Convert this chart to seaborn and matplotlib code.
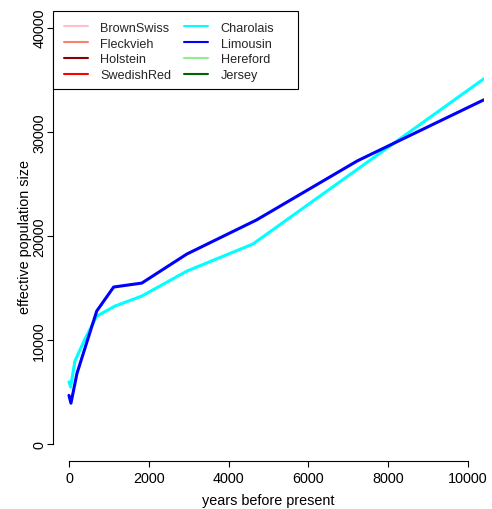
import matplotlib
matplotlib.use("Agg")
import matplotlib.pyplot as plt
from matplotlib.lines import Line2D
from matplotlib.patches import Rectangle
import numpy as np
import pandas as pd
import seaborn as sns

# Breeds shown in the legend, with their line colours
breeds = ["BrownSwiss", "Fleckvieh", "Holstein", "SwedishRed",
          "Charolais", "Limousin", "Hereford", "Jersey"]
colors = ["pink", "salmon", "darkred", "red",
          "cyan", "blue", "lightgreen", "darkgreen"]

# Effective population size trajectories (years before present, Ne)
charolais_years = [0, 40, 150, 400, 695, 1150, 1825, 2955, 4610, 10400]
charolais_ne = [6000, 5500, 8000, 10100, 12300, 13270, 14230, 16630, 19230, 35100]

limousin_years = [0, 50, 200, 695, 1120, 1825, 2955, 4700, 7225, 10400]
limousin_ne = [4700, 3950, 6800, 12790, 15100, 15480, 18270, 21540, 27210, 33080]

x_ticks = [0, 2000, 4000, 6000, 8000, 10000]
y_ticks = [0, 10000, 20000, 30000, 40000]

df = pd.concat([
    pd.DataFrame({"years": charolais_years, "ne": charolais_ne, "breed": "Charolais"}),
    pd.DataFrame({"years": limousin_years, "ne": limousin_ne, "breed": "Limousin"}),
], ignore_index=True)

sns.set_theme(style="white")
plt.rcParams["font.family"] = ["Liberation Sans", "DejaVu Sans"]

W, H = 492, 510
fig = plt.figure(figsize=(W / 100, H / 100), dpi=100)
ax = fig.add_axes([53 / W, 1 - 462 / H, (484 - 53) / W, (462 - 12) / H])

palette = dict(zip(breeds, colors))
sns.lineplot(data=df, x="years", y="ne", hue="breed", palette=palette,
             sort=False, estimator=None, linewidth=2.2, legend=False, ax=ax)

ax.set_xlim(-400, 10400)
ax.set_ylim(-1600, 41600)
ax.set_xticks(x_ticks)
ax.set_yticks(y_ticks)
ax.set_xticklabels([str(t) for t in x_ticks])
ax.set_yticklabels([str(t) for t in y_ticks], rotation=90, va="center")

for side in ("top", "right"):
    ax.spines[side].set_visible(False)
ax.spines["left"].set_bounds(0, 40000)
ax.spines["bottom"].set_bounds(0, 10000)
for side in ("left", "bottom"):
    ax.spines[side].set_color("black")
    ax.spines[side].set_linewidth(0.8)

ax.tick_params(axis="both", direction="out", length=4.3, width=0.8,
               colors="black", labelsize=10.4, left=True, bottom=True)
ax.tick_params(axis="x", pad=3)
ax.tick_params(axis="y", pad=0.5)

ax.set_xlabel("years before present", fontsize=10.4, color="black", labelpad=5.5)
ax.set_ylabel("effective population size", fontsize=10.4, color="black", labelpad=0)

# Legend box (drawn separately so it can be wider than the entries)
ax.add_patch(Rectangle((53 / W, 1 - 90 / H), 245 / W, 78 / H,
                       transform=fig.transFigure, facecolor="white",
                       edgecolor="black", linewidth=0.8, zorder=5,
                       clip_on=False))

handles = [Line2D([0], [0], color=c, lw=1.5) for c in colors]
leg = ax.legend(handles, breeds, ncol=2, loc="upper left",
                bbox_to_anchor=(0, 1), borderaxespad=0, fontsize=9.1,
                frameon=False, handlelength=1.9,
                handletextpad=1.0, columnspacing=1.0, labelspacing=0.3,
                borderpad=0.85)
leg.set_zorder(10)

fig.savefig("out.png", dpi=100)
